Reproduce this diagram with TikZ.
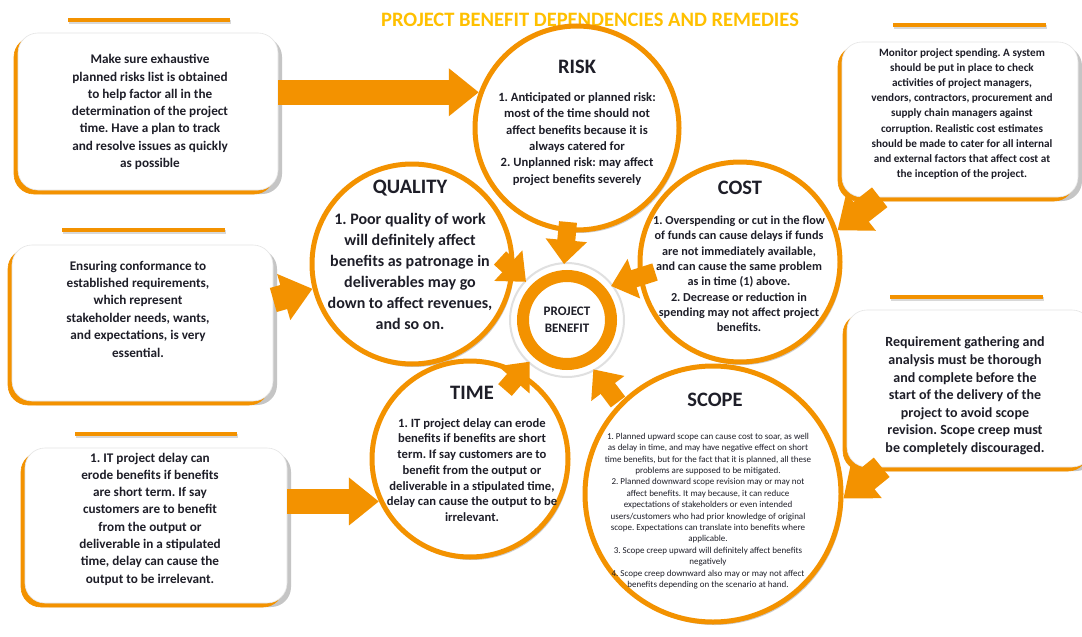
\documentclass[tikz,border=0pt]{standalone}
\usepackage{fontspec}
\setmainfont{Carlito}
\frenchspacing
\usetikzlibrary{arrows.meta,shadows,calc}
\definecolor{org}{HTML}{F39200}
\definecolor{gold}{HTML}{FFC000}
\definecolor{ink}{HTML}{1E1E28}
\tikzset{
  box/.style={rectangle, rounded corners=20pt, fill=white, draw=black!10, line width=0.6pt, inner sep=0pt,
    drop shadow={shadow xshift=4pt, shadow yshift=-4pt, fill=black!45, opacity=0.5},
    copy shadow={shadow xshift=-4pt, shadow yshift=-4pt, fill=org, draw=org}},
  bar/.style={rectangle, fill=org, minimum height=4pt, inner sep=0pt,
    drop shadow={shadow xshift=1pt, shadow yshift=-2pt, fill=black!30, opacity=0.5}},
  circ/.style={circle, fill=white, draw=org, line width=5pt, inner sep=0pt,
    drop shadow={shadow xshift=2pt, shadow yshift=-3pt, fill=black!40, opacity=0.5}},
  txt/.style={align=center, text=ink, inner sep=0pt, font=\bfseries},
  head/.style={text=ink, inner sep=0pt, font=\bfseries\fontsize{20.5}{24}\selectfont},
  bigarrow/.style={draw=org, line width=25pt, -{Triangle[length=30pt, width=46pt]}},
  inarrow/.style={draw=org, line width=18pt, shorten >=6pt, -{Triangle[length=24pt, width=40pt]}},
}
\begin{document}
\begin{tikzpicture}[x=1pt,y=-1pt]
\useasboundingbox (0,0) rectangle (1082,637);
\fill[white] (0,0) rectangle (1082,637);

% title
\node[inner sep=0pt, text=gold, font=\bfseries\fontsize{20.5}{24}\selectfont] (title) at (590,20) {PROJECT BENEFIT DEPENDENCIES AND REMEDIES};

% remedy boxes
\node[box, minimum width=260pt, minimum height=157pt] (b1) at (148,111.5) {};
\node[box, minimum width=261pt, minimum height=156pt] (b2) at (142.5,323) {};
\node[box, minimum width=262pt, minimum height=155pt] (b3) at (156,525.5) {};
\node[box, minimum width=236pt, minimum height=155pt] (b4) at (960,119.5) {};
\node[box, minimum width=245pt, minimum height=157pt] (b5) at (969.5,388.5) {};

\node[bar, minimum width=162pt] (bar1) at (149,20) {};
\node[bar, minimum width=163pt] (bar2) at (143.5,230) {};
\node[bar, minimum width=162pt] (bar3) at (156,434) {};
\node[bar, minimum width=153pt] (bar4) at (969.5,25) {};
\node[bar, minimum width=153pt] (bar5) at (966.5,297) {};

% circles
\node[circ, minimum size=204pt] (risk) at (577,128) {};
\node[circ, minimum size=200pt] (quality) at (412,264) {};
\node[circ, minimum size=200pt] (cost) at (740,262) {};
\node[circ, minimum size=196pt] (time) at (470,459) {};
\node[circ, minimum size=256pt] (scope) at (713,494) {};

% arrows from remedies
\draw[bigarrow] (b1.east |- risk.160) -- (risk.160);
\draw[bigarrow] ([yshift=23pt]b2.east) -- (quality.194);
\draw[bigarrow] (b3.east |- time.205) -- (time.205);
\draw[bigarrow] ([xshift=38pt]b4.south west) -- (cost.18);
\draw[bigarrow] ([xshift=35pt]b5.south west) -- (scope.-2);

% project benefit
\node[circle, draw=black!12, line width=2pt, minimum size=114pt, inner sep=0pt] (halo) at (567,320) {};
\coordinate (ra) at (568,222);
\coordinate (qa) at (500,258);
\coordinate (ca) at (655,272);
\coordinate (ta) at (505,390);
\coordinate (sa) at (618,402);
\node[circle, fill=white, draw=org, line width=12pt, minimum size=88pt, inner sep=0pt] (benefit) at (567,320) {};
\draw[inarrow] (ra) -- (benefit.94);
\draw[inarrow] (qa) -- (benefit.137);
\draw[inarrow] (ca) -- (benefit.40);
\draw[inarrow] (ta) -- (benefit.-132);
\draw[inarrow] (sa) -- (benefit.-63);
\node[txt, font=\bfseries\fontsize{13}{17}\selectfont] (bt) at (benefit) {PROJECT\\BENEFIT};

% headings
\node[head] (rh) at (577,67) {RISK};
\node[head] (qh) at (410,188) {QUALITY};
\node[head] (ch) at (740,188) {COST};
\node[head] (th) at (472,393) {TIME};
\node[head] (sh) at (715,400) {SCOPE};

% circle texts
\node[txt, font=\bfseries\fontsize{12.6}{16.4}\selectfont] (rt) at (577,139) {1. Anticipated or planned risk:\\most of the time should not\\affect benefits because it is\\always catered for\\2. Unplanned risk: may affect\\project benefits severely};
\node[txt, font=\bfseries\fontsize{16}{21}\selectfont] (qt) at (410,271) {1. Poor quality of work\\will definitely affect\\benefits as patronage in\\deliverables may go\\down to affect revenues,\\and so on.};
\node[txt, font=\bfseries\fontsize{12.2}{15.3}\selectfont] (ct) at (739,274) {1. Overspending or cut in the flow\\of funds can cause delays if funds\\are not immediately available,\\and can cause the same problem\\as in time (1) above.\\2. Decrease or reduction in\\spending may not affect project\\benefits.};
\node[txt, font=\bfseries\fontsize{12.6}{15.7}\selectfont] (tt) at (472,470) {1. IT project delay can erode\\benefits if benefits are short\\term. If say customers are to\\benefit from the output or\\deliverable in a stipulated time,\\delay can cause the output to be\\irrelevant.};
\node[txt, font=\fontsize{9}{11.4}\selectfont] (st) at (708,511) {1. Planned upward scope can cause cost to soar, as well\\as delay in time, and may have negative effect on short\\time benefits, but for the fact that it is planned, all these\\problems are supposed to be mitigated.\\2. Planned downward scope revision may or may not\\affect benefits. It may because, it can reduce\\expectations of stakeholders or even intended\\users/customers who had prior knowledge of original\\scope. Expectations can translate into benefits where\\applicable.\\3. Scope creep upward will definitely affect benefits\\negatively\\4. Scope creep downward also may or may not affect\\benefits depending on the scenario at hand.};

% box texts
\node[txt, font=\bfseries\fontsize{13.2}{17.3}\selectfont] (t1) at (150,112) {Make sure exhaustive\\planned risks list is obtained\\to help factor all in the\\determination of the project\\time. Have a plan to track\\and resolve issues as quickly\\as possible};
\node[txt, font=\bfseries\fontsize{13.2}{17.4}\selectfont] (t2) at (138,309) {Ensuring conformance to\\established requirements,\\which represent\\stakeholder needs, wants,\\and expectations, is very\\essential.};
\node[txt, font=\bfseries\fontsize{13.2}{17.3}\selectfont] (t3) at (150,519) {1. IT project delay can\\erode benefits if benefits\\are short term. If say\\customers are to benefit\\from the output or\\deliverable in a stipulated\\time, delay can cause the\\output to be irrelevant.};
\node[txt, font=\bfseries\fontsize{11.2}{15.2}\selectfont] (t4) at (962,114) {Monitor project spending. A system\\should be put in place to check\\activities of project managers,\\vendors, contractors, procurement and\\supply chain managers against\\corruption. Realistic cost estimates\\should be made to cater for all internal\\and external factors that affect cost at\\the inception of the project.};
\node[txt, font=\bfseries\fontsize{14}{17.6}\selectfont] (t5) at (965,396) {Requirement gathering and\\analysis must be thorough\\and complete before the\\start of the delivery of the\\project to avoid scope\\revision. Scope creep must\\be completely discouraged.};
\end{tikzpicture}
\end{document}
